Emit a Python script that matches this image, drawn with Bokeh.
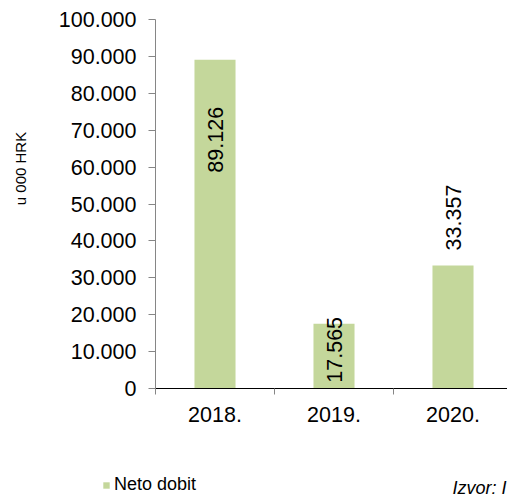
import math
from bokeh.plotting import figure
from bokeh.models import ColumnDataSource, Range1d, FixedTicker, Label, Legend, LegendItem
from bokeh.core.properties import value
from bokeh.embed import file_html
from bokeh.resources import INLINE

# ---- data ----
years = ["2018.", "2019.", "2020."]
neto_dobit = [89126, 17565, 33357]
value_labels = ["89.126", "17.565", "33.357"]
y_ticks = [0, 10000, 20000, 30000, 40000, 50000, 60000, 70000, 80000, 90000, 100000]
y_tick_labels = ["0", "10.000", "20.000", "30.000", "40.000", "50.000",
                 "60.000", "70.000", "80.000", "90.000", "100.000"]

# ---- layout / style ----
W, H = 507, 498
AXIS_X_PX, ZERO_Y_PX, TOP_Y_PX, CAT_PX = 155, 388, 19, 119
Y_MAX = y_ticks[-1]
UPP = Y_MAX / (ZERO_Y_PX - TOP_Y_PX)          # data units per pixel (y)


def dx(px):
    return (px - AXIS_X_PX) / CAT_PX


def dy(py):
    return (ZERO_Y_PX - py) * UPP


label_offsets_px = [113, 59, -15]
FONT = "Liberation Sans"
BAR = "#c4d79b"
GRAY = "#868686"

xs = [i + 0.5 for i in range(len(years))]
src = ColumnDataSource(dict(x=xs, top=neto_dobit, label=value_labels, off=label_offsets_px))

p = figure(width=W, height=H,
           x_range=Range1d(dx(0), dx(W)), y_range=Range1d(dy(H), dy(0)),
           output_backend="svg", toolbar_location=None, min_border=0,
           min_border_left=0, min_border_right=0, min_border_top=0, min_border_bottom=0)
p.xgrid.visible = False
p.ygrid.visible = False
p.outline_line_color = None
p.background_fill_color = "white"
p.border_fill_color = "white"

r = p.vbar(x="x", top="top", width=0.345, source=src, fill_color=BAR, line_color=None)
p.text(x="x", y="top", text="label", source=src, angle=math.pi / 2,
       text_align="left", text_baseline="middle", y_offset="off",
       text_font=value(FONT), text_font_size="21.5px", text_color="black")

# x axis (fixed at y = 0)
p.xaxis.fixed_location = 0
p.xaxis.bounds = (0, len(years))
p.xaxis.ticker = FixedTicker(ticks=xs, minor_ticks=list(range(len(years) + 1)))
p.xaxis.major_label_overrides = {x: y for x, y in zip(xs, years)}
p.xaxis.major_tick_out = 0
p.xaxis.major_tick_in = 0
p.xaxis.minor_tick_out = 6
p.xaxis.minor_tick_in = 0
p.xaxis.minor_tick_line_color = GRAY
p.xaxis.axis_line_color = "black"
p.xaxis.major_label_standoff = 12
p.xaxis.major_label_text_font = FONT
p.xaxis.major_label_text_font_size = "21.5px"
p.xaxis.major_label_text_color = "black"

# y axis (fixed at x = 0)
p.yaxis.fixed_location = 0
p.yaxis.bounds = (0, Y_MAX)
p.yaxis.ticker = FixedTicker(ticks=y_ticks)
p.yaxis.major_label_overrides = {t: l for t, l in zip(y_ticks, y_tick_labels)}
p.yaxis.major_tick_out = 7
p.yaxis.major_tick_in = 0
p.yaxis.minor_tick_out = 0
p.yaxis.minor_tick_in = 0
p.yaxis.axis_line_color = GRAY
p.yaxis.major_tick_line_color = GRAY
p.yaxis.major_label_standoff = 12
p.yaxis.major_label_text_font = FONT
p.yaxis.major_label_text_font_size = "21.5px"
p.yaxis.major_label_text_color = "black"

# y axis title
p.add_layout(Label(x=dx(20), y=dy(168), text="u 000 HRK", angle=math.pi / 2,
                   text_align="center", text_baseline="middle",
                   text_font=FONT, text_font_size="15px", text_color="black"))

# source note
p.add_layout(Label(x=dx(452), y=dy(497), text="Izvor: I", text_align="left",
                   text_baseline="bottom",
                   text_font=FONT, text_font_size="18px", text_font_style="italic",
                   text_color="black"))

legend = Legend(items=[LegendItem(label="Neto dobit", renderers=[r])], location=(102, 3),
                padding=0, margin=0, border_line_color=None, background_fill_alpha=0,
                glyph_width=8, glyph_height=8, label_standoff=4,
                label_text_font=FONT, label_text_font_size="18px", label_text_color="black")
p.add_layout(legend)

open("out.html", "w").write(file_html(p, INLINE))
